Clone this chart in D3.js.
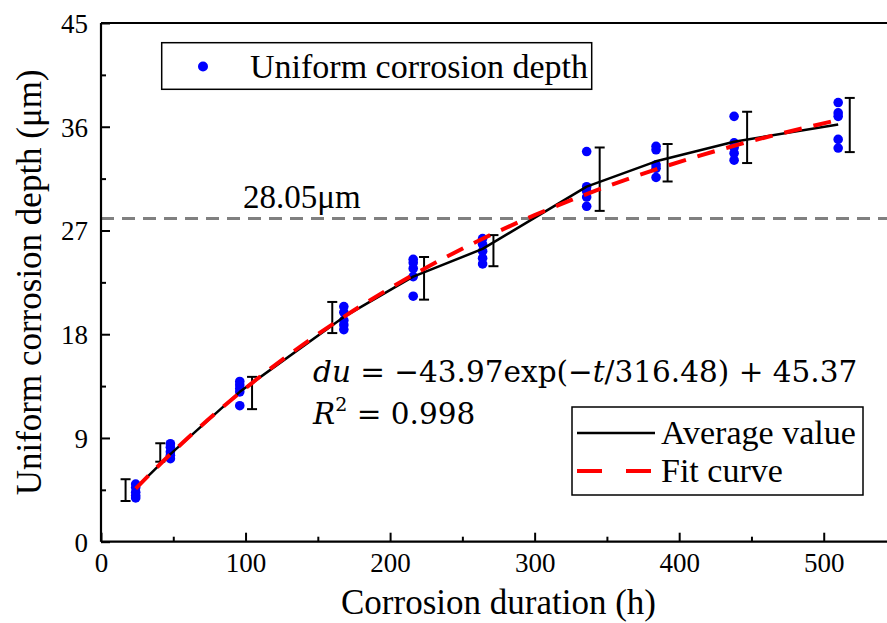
<!DOCTYPE html>
<html><head><meta charset="utf-8">
<script src="https://cdn.jsdelivr.net/npm/d3@7"></script>
<style>body{margin:0;background:#fff;overflow:hidden} svg{display:block}
svg text{font-family:"Liberation Serif","Times New Roman",serif}
svg text.eqn{font-family:"DejaVu Serif",serif}</style>
</head><body><svg id="c" width="887" height="623"></svg>
<script>
// ---- data ----
const times = [24, 48, 96, 168, 216, 264, 336, 384, 438, 510];
const samples = [
  [5.0, 4.7, 4.3, 4.0, 3.8],
  [8.5, 8.2, 7.8, 7.5, 7.2],
  [13.9, 13.6, 13.3, 13.0, 11.8],
  [20.4, 19.9, 19.2, 18.8, 18.4],
  [24.5, 24.2, 23.7, 23.0, 21.3],
  [26.3, 25.8, 25.2, 24.6, 24.1],
  [33.85, 30.8, 30.4, 29.9, 29.1],
  [34.3, 34.0, 32.7, 32.4, 31.6],
  [36.9, 34.6, 34.2, 33.7, 33.1],
  [38.1, 37.2, 36.9, 34.9, 34.15]
];
const averageValues = [4.63, 7.6, 13.0, 19.5, 23.0, 25.4, 30.8, 33.0, 34.7, 36.2];
const errorTimes = [17, 41, 104.5, 160, 223.5, 271.5, 345, 392, 447, 518];
const errorLow  = [3.53, 6.94, 11.5, 18.1, 21.0, 23.9, 28.7, 31.25, 32.85, 33.8];
const errorHigh = [5.42, 8.54, 14.3, 20.8, 24.7, 26.6, 34.2, 34.5, 37.3, 38.5];
const fitTimes  = [24, 48, 96, 132, 168, 216, 264, 300, 336, 384, 438, 510];
const fitValues = [4.61, 7.59, 12.91, 16.40, 19.51, 23.15, 26.28, 28.33, 30.16, 32.30, 34.35, 36.59];
const thresholdValue = 28.05;
const xTicks = [0, 100, 200, 300, 400, 500];
const xMinor = [50, 150, 250, 350, 450, 550];
const yTicks = [0, 9, 18, 27, 36, 45];
const yMinor = [4.5, 13.5, 22.5, 31.5, 40.5];

// ---- layout ----
const svg = d3.select("#c");
const L = 101, T = 23, R = 896, B = 541.7;
const x = d3.scaleLinear().domain([0, 550]).range([L, R]);
const y = d3.scaleLinear().domain([0, 45]).range([B, T]);

// threshold dashed line
svg.append("line").attr("x1", L).attr("x2", R)
  .attr("y1", y(thresholdValue)).attr("y2", y(thresholdValue))
  .attr("stroke", "#808080").attr("stroke-width", 3).attr("stroke-dasharray", "13,8");
svg.append("text").attr("x", 243).attr("y", y(thresholdValue) - 10)
  .attr("font-size", 33).attr("fill", "#000").text("28.05μm");

// points
const pts = [];
times.forEach((t, i) => samples[i].forEach(v => pts.push([t, v])));
svg.append("g").selectAll("circle").data(pts).join("circle")
  .attr("cx", d => x(d[0])).attr("cy", d => y(d[1])).attr("r", 4.8).attr("fill", "#0000ff");

// error bars
const eb = svg.append("g").attr("stroke", "#000").attr("stroke-width", 2).attr("fill", "none");
errorTimes.forEach((t, i) => {
  const cx = x(t), y1 = y(errorLow[i]), y2 = y(errorHigh[i]);
  eb.append("line").attr("x1", cx).attr("x2", cx).attr("y1", y1).attr("y2", y2);
  eb.append("line").attr("x1", cx - 5).attr("x2", cx + 5).attr("y1", y1).attr("y2", y1);
  eb.append("line").attr("x1", cx - 5).attr("x2", cx + 5).attr("y1", y2).attr("y2", y2);
});

// average line
const avgLine = d3.line().x((d, i) => x(times[i])).y(d => y(d)).curve(d3.curveLinear);
svg.append("path").attr("d", avgLine(averageValues)).attr("fill", "none")
  .attr("stroke", "#000").attr("stroke-width", 2.5).attr("stroke-linejoin", "round");

// fit curve
const fitLine = d3.line().x((d, i) => x(fitTimes[i])).y(d => y(d)).curve(d3.curveMonotoneX);
svg.append("path").attr("d", fitLine(fitValues)).attr("fill", "none")
  .attr("stroke", "#ff0000").attr("stroke-width", 4).attr("stroke-dasharray", "18,12");

// axes
const gx = svg.append("g").attr("transform", `translate(0,${B})`);
gx.call(d3.axisBottom(x).tickValues(xTicks).tickSize(-9).tickPadding(10).tickFormat(d3.format("d")));
const gxm = svg.append("g").attr("transform", `translate(0,${B})`);
gxm.call(d3.axisBottom(x).tickValues(xMinor).tickSize(-5).tickFormat(""));
const gy = svg.append("g").attr("transform", `translate(${L},0)`);
gy.call(d3.axisLeft(y).tickValues(yTicks).tickSize(-9).tickPadding(13).tickFormat(d3.format("d")));
const gym = svg.append("g").attr("transform", `translate(${L},0)`);
gym.call(d3.axisLeft(y).tickValues(yMinor).tickSize(-5).tickFormat(""));
[gx, gxm, gy, gym].forEach(g => {
  g.attr("font-family", null);
  g.select(".domain").remove();
  g.selectAll(".tick line").attr("stroke", "#000").attr("stroke-width", 2);
  g.selectAll("text").attr("font-size", 27).attr("fill", "#000");
});
gx.selectAll("text").attr("dy", "0.75em");
gy.selectAll("text").attr("dy", "0.35em");
// frame lines
const fr = svg.append("g").attr("stroke", "#000").attr("stroke-width", 2.2);
fr.append("line").attr("x1", L).attr("x2", R).attr("y1", B).attr("y2", B);
fr.append("line").attr("x1", L).attr("x2", L).attr("y1", T).attr("y2", B);
fr.append("line").attr("x1", L).attr("x2", R).attr("y1", T).attr("y2", T);

// axis titles
svg.append("text").attr("x", (L + R) / 2).attr("y", 614).attr("text-anchor", "middle")
  .attr("font-size", 35).attr("fill", "#000").text("Corrosion duration (h)");
svg.append("text").attr("transform", `translate(41,${(T + B) / 2}) rotate(-90)`).attr("text-anchor", "middle")
  .attr("font-size", 35).attr("fill", "#000").text("Uniform corrosion depth (μm)");

// legend 1
svg.append("rect").attr("x", 161.7).attr("y", 42.7).attr("width", 430).attr("height", 46.6)
  .attr("fill", "#fff").attr("stroke", "#000").attr("stroke-width", 1.5);
svg.append("circle").attr("cx", 203).attr("cy", 66.5).attr("r", 5).attr("fill", "#0000ff");
svg.append("text").attr("x", 250).attr("y", 78).attr("font-size", 34)
  .attr("fill", "#000").text("Uniform corrosion depth");

// equation
const eq = svg.append("text").attr("class", "eqn").attr("x", 313).attr("y", 382)
  .attr("font-size", 29.5).attr("fill", "#000");
eq.append("tspan").attr("font-style", "italic").text("du");
eq.append("tspan").text(" = −43.97exp(−");
eq.append("tspan").attr("font-style", "italic").text("t");
eq.append("tspan").text("/316.48) + 45.37");
const r2 = svg.append("text").attr("class", "eqn").attr("x", 313).attr("y", 424)
  .attr("font-size", 29.5).attr("fill", "#000");
r2.append("tspan").attr("font-style", "italic").text("R");
r2.append("tspan").attr("font-size", 19).attr("dy", -13).text("2");
r2.append("tspan").attr("dy", 13).text(" = 0.998");

// legend 2
svg.append("rect").attr("x", 572).attr("y", 407).attr("width", 291).attr("height", 88)
  .attr("fill", "#fff").attr("stroke", "#000").attr("stroke-width", 1.5);
svg.append("line").attr("x1", 577).attr("x2", 655).attr("y1", 433).attr("y2", 433)
  .attr("stroke", "#000").attr("stroke-width", 2.5);
svg.append("line").attr("x1", 577).attr("x2", 655).attr("y1", 471).attr("y2", 471)
  .attr("stroke", "#ff0000").attr("stroke-width", 4).attr("stroke-dasharray", "25,24");
svg.append("text").attr("x", 661).attr("y", 444).attr("font-size", 34)
  .attr("fill", "#000").text("Average value");
svg.append("text").attr("x", 661).attr("y", 482).attr("font-size", 34)
  .attr("fill", "#000").text("Fit curve");
</script></body></html>
